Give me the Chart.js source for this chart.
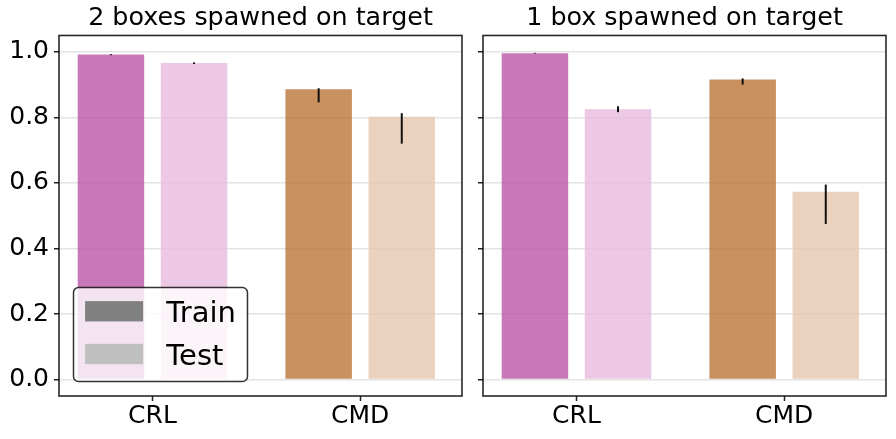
<!DOCTYPE html>
<html><head><meta charset="utf-8">
<script src="https://cdn.jsdelivr.net/npm/chart.js@4.4.1/dist/chart.umd.min.js"></script>
<style>
html,body{margin:0;padding:0;background:#fff;width:896px;height:439px;overflow:hidden;}
.panel{position:absolute;top:0;height:439px;}
#p1{left:0;width:521px;}
#p2{left:473px;width:423px;}
</style></head><body>
<div class="panel" id="p1"><canvas id="c1"></canvas></div>
<div class="panel" id="p2"><canvas id="c2"></canvas></div>
<script>
// ---------------- data ----------------
const categories = ['CRL', 'CMD'];
const seriesNames = ['Train', 'Test'];
const panelTitles = ['2 boxes spawned on target', '1 box spawned on target'];
const yTicks = [0.0, 0.2, 0.4, 0.6, 0.8, 1.0];

// panel 1: 2 boxes spawned on target
const twoTrain   = [0.992, 0.886];
const twoTrainLo = [0.990, 0.846];
const twoTrainHi = [0.993, 0.889];
const twoTest    = [0.966, 0.802];
const twoTestLo  = [0.963, 0.720];
const twoTestHi  = [0.968, 0.813];

// panel 2: 1 box spawned on target
const oneTrain   = [0.996, 0.916];
const oneTrainLo = [0.995, 0.900];
const oneTrainHi = [0.997, 0.919];
const oneTest    = [0.825, 0.573];
const oneTestLo  = [0.816, 0.475];
const oneTestHi  = [0.834, 0.595];

// ---------------- styles ----------------
const FONT = 'DejaVu Sans';
const trainColors = ['rgba(186,86,168,0.8)', 'rgba(186,118,55,0.8)'];
const testColors  = ['rgba(231,186,221,0.8)', 'rgba(230,199,175,0.8)'];
const legendHandleColors = ['#808080', '#bfbfbf'];

Chart.defaults.color = '#000';
Chart.defaults.font.family = FONT;

const errorBarPlugin = {
  id: 'errorBars',
  afterDatasetsDraw(chart) {
    const ctx = chart.ctx;
    const ys = chart.scales.y;
    ctx.save();
    ctx.strokeStyle = '#111';
    ctx.lineWidth = 2;
    chart.data.datasets.forEach((ds, d) => {
      const meta = chart.getDatasetMeta(d);
      meta.data.forEach((el, i) => {
        const y1 = ys.getPixelForValue(ds.errLow[i]);
        const y2 = ys.getPixelForValue(ds.errHigh[i]);
        ctx.beginPath();
        ctx.moveTo(el.x, y1);
        ctx.lineTo(el.x, y2);
        ctx.stroke();
      });
    });
    // frame (all four spines)
    const a = chart.chartArea;
    ctx.strokeStyle = 'rgba(0,0,0,0.85)';
    ctx.lineWidth = 1.6;
    ctx.strokeRect(a.left, a.top, a.right - a.left, a.bottom - a.top);
    ctx.restore();
  }
};

const boxLegendPlugin = {
  id: 'boxLegend',
  afterDraw(chart, args, opts) {
    if (!opts.show) return;
    const ctx = chart.ctx;
    const a = chart.chartArea;
    const fs = opts.fontSize;
    ctx.save();
    ctx.font = fs + 'px "' + FONT + '"';
    const pad = 0.4 * fs, hl = 2.0 * fs, hh = 0.7 * fs, tp = 0.8 * fs;
    const rowGap = 42.7, firstRow = 23.8, h = 94;
    let tw = 0;
    opts.labels.forEach(l => { tw = Math.max(tw, ctx.measureText(l).width); });
    const w = pad + hl + tp + tw + pad;
    const x0 = a.left + 0.5 * fs;
    const y0 = a.bottom - 0.5 * fs - h;
    ctx.beginPath();
    ctx.roundRect(x0, y0, w, h, 5);
    ctx.fillStyle = 'rgba(255,255,255,0.8)';
    ctx.fill();
    ctx.strokeStyle = 'rgba(0,0,0,0.8)';
    ctx.lineWidth = 1.5;
    ctx.stroke();
    opts.labels.forEach((l, i) => {
      const cy = y0 + firstRow + i * rowGap;
      ctx.fillStyle = opts.colors[i];
      ctx.fillRect(x0 + pad, cy - hh / 2, hl, hh);
      ctx.fillStyle = '#000';
      ctx.textBaseline = 'alphabetic';
      ctx.textAlign = 'left';
      ctx.fillText(l, x0 + pad + hl + tp, cy + 0.729 * fs / 2);
    });
    ctx.restore();
  }
};

function makeChart(canvasId, title, train, trainLo, trainHi, test, testLo, testHi, isLeft) {
  const sideW = isLeft ? 59 : 10;
  return new Chart(document.getElementById(canvasId), {
    type: 'bar',
    data: {
      datasets: [
        {
          label: seriesNames[0],
          data: categories.map((c, i) => ({ x: i, y: train[i] })),
          backgroundColor: trainColors,
          borderWidth: 0,
          errLow: trainLo, errHigh: trainHi
        },
        {
          label: seriesNames[1],
          data: categories.map((c, i) => ({ x: i, y: test[i] })),
          backgroundColor: testColors,
          borderWidth: 0,
          errLow: testLo, errHigh: testHi
        }
      ]
    },
    options: {
      responsive: true,
      maintainAspectRatio: false,
      animation: false,
      events: [],
      datasets: { bar: { categoryPercentage: 0.8, barPercentage: 0.8 } },
      layout: { padding: 0 },
      scales: {
        x: {
          type: 'linear',
          min: -0.45,
          max: 1.49,
          offset: false,
          afterBuildTicks: (s) => { s.ticks = categories.map((c, i) => ({ value: i })); },
          afterFit: (s) => { s.height = 43; },
          ticks: {
            callback: (v) => categories[v],
            font: { size: 25 },
            padding: 0,
            maxRotation: 0,
            autoSkip: false
          },
          grid: { display: true, drawOnChartArea: false, drawTicks: true, tickLength: 5, tickColor: '#222', tickWidth: 1.5, offset: false },
          border: { display: false }
        },
        y: {
          type: 'linear',
          min: -0.05,
          max: 1.05,
          afterBuildTicks: (s) => { s.ticks = yTicks.map(v => ({ value: v })); },
          afterFit: (s) => { s.width = sideW; },
          ticks: {
            display: isLeft,
            callback: (v) => Number(v).toFixed(1),
            font: { size: 25 },
            padding: 5
          },
          grid: { color: '#e4e4e4', lineWidth: 1.5, drawTicks: true, tickLength: 5, tickColor: '#222', tickWidth: 1.5 },
          border: { display: false }
        },
        spacer: {
          type: 'linear',
          position: 'right',
          display: true,
          min: 0, max: 1,
          afterFit: (s) => { s.width = sideW; },
          ticks: { display: false },
          grid: { display: false },
          border: { display: false }
        }
      },
      plugins: {
        legend: { display: false },
        tooltip: { enabled: false },
        title: {
          display: true,
          text: title,
          font: { size: 25.4, weight: 'normal' },
          color: '#000',
          padding: { top: 3.4, bottom: 1.6 }
        },
        boxLegend: { show: isLeft, fontSize: 29, labels: seriesNames, colors: legendHandleColors }
      }
    },
    plugins: [errorBarPlugin, boxLegendPlugin]
  });
}

makeChart('c1', panelTitles[0], twoTrain, twoTrainLo, twoTrainHi, twoTest, twoTestLo, twoTestHi, true);
makeChart('c2', panelTitles[1], oneTrain, oneTrainLo, oneTrainHi, oneTest, oneTestLo, oneTestHi, false);
</script>
</body></html>
